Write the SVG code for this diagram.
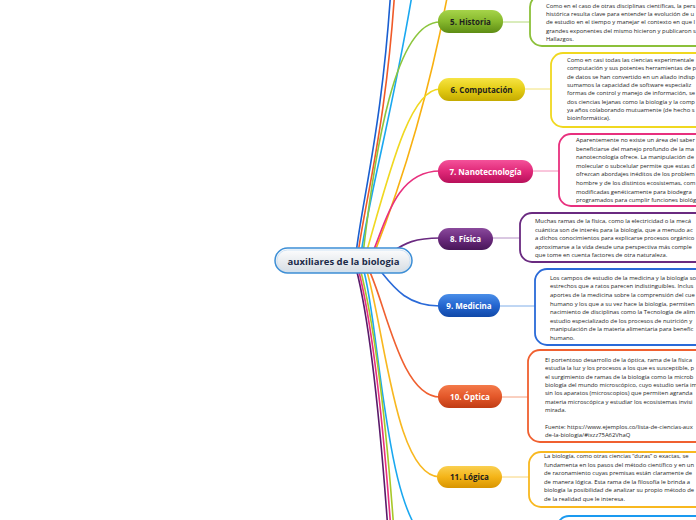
<svg xmlns="http://www.w3.org/2000/svg" width="696" height="520" viewBox="0 0 696 520">
<defs>
<linearGradient id="gCenter" x1="0" y1="0" x2="0" y2="1"><stop offset="0" stop-color="#ffffff"/><stop offset="1" stop-color="#d6dce2"/></linearGradient>
<linearGradient id="gGreen" x1="0" y1="0" x2="0" y2="1"><stop offset="0" stop-color="#a6d44a"/><stop offset="0.5" stop-color="#86b82c"/><stop offset="1" stop-color="#5e8c14"/></linearGradient>
<linearGradient id="gYellow" x1="0" y1="0" x2="0" y2="1"><stop offset="0" stop-color="#f6e444"/><stop offset="0.5" stop-color="#e4cc14"/><stop offset="1" stop-color="#c4aa00"/></linearGradient>
<linearGradient id="gPink" x1="0" y1="0" x2="0" y2="1"><stop offset="0" stop-color="#f4529a"/><stop offset="0.5" stop-color="#e02878"/><stop offset="1" stop-color="#b8105a"/></linearGradient>
<linearGradient id="gPurple" x1="0" y1="0" x2="0" y2="1"><stop offset="0" stop-color="#8a4a9c"/><stop offset="0.5" stop-color="#6a2a7c"/><stop offset="1" stop-color="#481658"/></linearGradient>
<linearGradient id="gBlue" x1="0" y1="0" x2="0" y2="1"><stop offset="0" stop-color="#4a8ee8"/><stop offset="0.5" stop-color="#2466d0"/><stop offset="1" stop-color="#1048a8"/></linearGradient>
<linearGradient id="gOrange" x1="0" y1="0" x2="0" y2="1"><stop offset="0" stop-color="#f47a4a"/><stop offset="0.5" stop-color="#e4582a"/><stop offset="1" stop-color="#c03c14"/></linearGradient>
<linearGradient id="gGold" x1="0" y1="0" x2="0" y2="1"><stop offset="0" stop-color="#fad050"/><stop offset="0.5" stop-color="#f4b418"/><stop offset="1" stop-color="#d89400"/></linearGradient>
</defs>
<style>
.ln{fill:none;stroke-width:1.6;stroke-linecap:round}
.lk{fill:none;stroke-width:1}
.box{fill:#ffffff;stroke-width:1.8}
.pl{font-family:"Open Sans","Liberation Sans",sans-serif;font-weight:bold;font-size:8px;text-anchor:middle}
.tx{font-family:"Open Sans","Liberation Sans",sans-serif;font-size:5.9px;fill:#1e1e1e}
.dk{fill:#1e1e1e}
.wt{fill:#ffffff}
</style>
<rect width="696" height="520" fill="#ffffff"/>
<g id="connectors">
<path class="ln" stroke="#1a5fd0" d="M356,254 C362,200 384,120 392,-30"/>
<path class="ln" stroke="#f05a28" d="M358,254 C365,200 388,120 396,-30"/>
<path class="ln" stroke="#1aa8f0" d="M361,254 C370,190 398,90 416,-30"/>
<path class="ln" stroke="#f8b010" d="M374,254 C395,200 430,100 452,-30"/>
<path class="ln" stroke="#8cc63e" d="M363,254 C375,150 395,22 440,22"/>
<path class="ln" stroke="#f0d820" d="M366,254 C390,170 410,89 440,89"/>
<path class="ln" stroke="#e8307e" d="M372,254 C385,225 395,171 440,171"/>
<path class="ln" stroke="#6a2a80" d="M392,252 C405,243 415,238 440,238"/>
<path class="ln" stroke="#2a6ad8" d="M378,268 C392,285 405,306 440,306"/>
<path class="ln" stroke="#f06030" d="M368,268 C385,300 400,397 440,397"/>
<path class="ln" stroke="#f8b820" d="M366,268 C385,330 395,477 440,477"/>
<path class="ln" stroke="#1aa8f0" d="M363,268 C380,320 385,540 438,545"/>
<path class="ln" stroke="#a8c828" d="M360,268 C376,330 388,440 396,560"/>
<path class="ln" stroke="#e8307e" d="M358,268 C374,330 385,440 393,560"/>
<path class="ln" stroke="#5a1a6a" d="M356,268 C372,330 382,440 390,560"/>
<path class="lk" stroke="#b4da78" d="M500,22 H531"/>
<path class="lk" stroke="#f2e278" d="M522,89 H552"/>
<path class="lk" stroke="#f48cb8" d="M530,171 H560"/>
<path class="lk" stroke="#b490c4" d="M490,238 H521"/>
<path class="lk" stroke="#80aee8" d="M497,306 H536"/>
<path class="lk" stroke="#f4a080" d="M499,397 H529"/>
<path class="lk" stroke="#f8d478" d="M499,477 H530"/>
</g>
<g id="center">
<rect x="275" y="248" width="137" height="25" rx="12.5" fill="url(#gCenter)" stroke="#3d8fd6" stroke-width="1.5"/>
<rect x="277" y="250" width="133" height="21" rx="10.5" fill="none" stroke="#cfe3f5" stroke-width="1"/>
<text x="343.5" y="264.5" font-family="'Open Sans','Liberation Sans',sans-serif" font-weight="bold" font-size="9.5" fill="#1c2b48" text-anchor="middle">auxiliares de la biologia</text>
</g>
<g id="n5">
<rect x="438" y="10" width="65" height="23" rx="11" fill="url(#gGreen)"/>
<text class="pl dk" x="470.5" y="24.8">5. Historia</text>
<rect class="box" x="530" y="-5" width="200" height="51" rx="12" stroke="#8cc03a"/>
<text class="tx"><tspan x="546" y="8">Como en el caso de otras disciplinas científicas, la pers</tspan><tspan x="546" y="16.2">histórica resulta clave para entender la evolución de u</tspan><tspan x="546" y="24.4">de estudio en el tiempo y manejar el contexto en que l</tspan><tspan x="546" y="32.6">grandes exponentes del mismo hicieron y publicaron s</tspan><tspan x="546" y="40.8">Hallazgos.</tspan></text>
</g>
<g id="n6">
<rect x="438" y="78" width="87" height="23" rx="11" fill="url(#gYellow)"/>
<text class="pl dk" x="481.5" y="92.8">6. Computación</text>
<rect class="box" x="551" y="53" width="180" height="74" rx="12" stroke="#f0d820"/>
<text class="tx"><tspan x="567" y="62">Como en casi todas las ciencias experimentale</tspan><tspan x="567" y="70.35">computación y sus potentes herramientas de p</tspan><tspan x="567" y="78.7">de datos se han convertido en un aliado indisp</tspan><tspan x="567" y="87.05">sumamos la capacidad de software especializ</tspan><tspan x="567" y="95.4">formas de control y manejo de información, se</tspan><tspan x="567" y="103.75">dos ciencias lejanas como la biología y la comp</tspan><tspan x="567" y="112.1">ya años colaborando mutuamente (de hecho s</tspan><tspan x="567" y="120.45">bioinformática).</tspan></text>
</g>
<g id="n7">
<rect x="438" y="160" width="95" height="23" rx="11" fill="url(#gPink)"/>
<text class="pl wt" x="485.5" y="174.8">7. Nanotecnología</text>
<rect class="box" x="559" y="134" width="180" height="72" rx="12" stroke="#e8307e"/>
<text class="tx"><tspan x="576" y="142">Aparentemente no existe un área del saber</tspan><tspan x="576" y="150.6">beneficiarse del manejo profundo de la ma</tspan><tspan x="576" y="159.2">nanotecnología ofrece. La manipulación de</tspan><tspan x="576" y="167.8">molecular o subcelular permite que estas d</tspan><tspan x="576" y="176.4">ofrezcan abordajes inéditos de los problem</tspan><tspan x="576" y="185">hombre y de los distintos ecosistemas, com</tspan><tspan x="576" y="193.6">modificadas genéticamente para biodegra</tspan><tspan x="576" y="202.2">programados para cumplir funciones biológ</tspan></text>
</g>
<g id="n8">
<rect x="438" y="228" width="55" height="22" rx="11" fill="url(#gPurple)"/>
<text class="pl wt" x="465.5" y="242.3">8. Física</text>
<rect class="box" x="520" y="213" width="200" height="49" rx="12" stroke="#6a2a80"/>
<text class="tx"><tspan x="535" y="223">Muchas ramas de la física, como la electricidad o la mecá</tspan><tspan x="535" y="231.6">cuántica son de interés para la biología, que a menudo ac</tspan><tspan x="535" y="240.2">a dichos conocimientos para explicarse procesos orgánico</tspan><tspan x="535" y="248.8">aproximarse a la vida desde una perspectiva más comple</tspan><tspan x="535" y="257.4">que tome en cuenta factores de otra naturaleza.</tspan></text>
</g>
<g id="n9">
<rect x="438" y="294" width="62" height="23" rx="11" fill="url(#gBlue)"/>
<text class="pl wt" x="469" y="308.8">9. Medicina</text>
<rect class="box" x="535" y="269" width="190" height="76" rx="12" stroke="#2a6ad8"/>
<text class="tx"><tspan x="550" y="279.7">Los campos de estudio de la medicina y la biología so</tspan><tspan x="550" y="288.3">estrechos que a ratos parecen indistinguibles. Inclus</tspan><tspan x="550" y="296.9">aportes de la medicina sobre la comprensión del cue</tspan><tspan x="550" y="305.5">humano y los que a su vez hace la biología, permiten</tspan><tspan x="550" y="314.1">nacimiento de disciplinas como la Tecnología de alim</tspan><tspan x="550" y="322.7">estudio especializado de los procesos de nutrición y</tspan><tspan x="550" y="331.3">manipulación de la materia alimentaria para benefic</tspan><tspan x="550" y="339.9">humano.</tspan></text>
</g>
<g id="n10">
<rect x="438" y="385" width="64" height="23" rx="11" fill="url(#gOrange)"/>
<text class="pl wt" x="470" y="399.8">10. Óptica</text>
<rect class="box" x="528" y="350" width="200" height="92" rx="12" stroke="#f06030"/>
<text class="tx"><tspan x="545" y="362">El portentoso desarrollo de la óptica, rama de la física</tspan><tspan x="545" y="370.33">estudia la luz y los procesos a los que es susceptible, p</tspan><tspan x="545" y="378.66">el surgimiento de ramas de la biología como la microb</tspan><tspan x="545" y="387">biología del mundo microscópico, cuyo estudio sería im</tspan><tspan x="545" y="395.33">sin los aparatos (microscopios) que permiten agranda</tspan><tspan x="545" y="403.66">materia microscópica y estudiar los ecosistemas invisi</tspan><tspan x="545" y="412">mirada.</tspan><tspan x="545" y="428.7">Fuente: https://www.ejemplos.co/lista-de-ciencias-aux</tspan><tspan x="545" y="437">de-la-biologia/#ixzz75A62VhaQ</tspan></text>
</g>
<g id="n11">
<rect x="437" y="466" width="65" height="22" rx="11" fill="url(#gGold)"/>
<text class="pl dk" x="469.5" y="480.3">11. Lógica</text>
<rect class="box" x="529" y="452" width="200" height="55" rx="12" stroke="#f8b820"/>
<text class="tx"><tspan x="544" y="458">La biología, como otras ciencias “duras” o exactas, se</tspan><tspan x="544" y="466.6">fundamenta en los pasos del método científico y en un</tspan><tspan x="544" y="475.2">de razonamiento cuyas premisas están claramente de</tspan><tspan x="544" y="483.8">de manera lógica. Esta rama de la filosofía le brinda a</tspan><tspan x="544" y="492.4">biología la posibilidad de analizar su propio método de</tspan><tspan x="544" y="501">de la realidad que le interesa.</tspan></text>
</g>
<g id="n12">
<rect class="box" x="557" y="516" width="180" height="40" rx="12" stroke="#1a9af0"/>
</g>
</svg>
